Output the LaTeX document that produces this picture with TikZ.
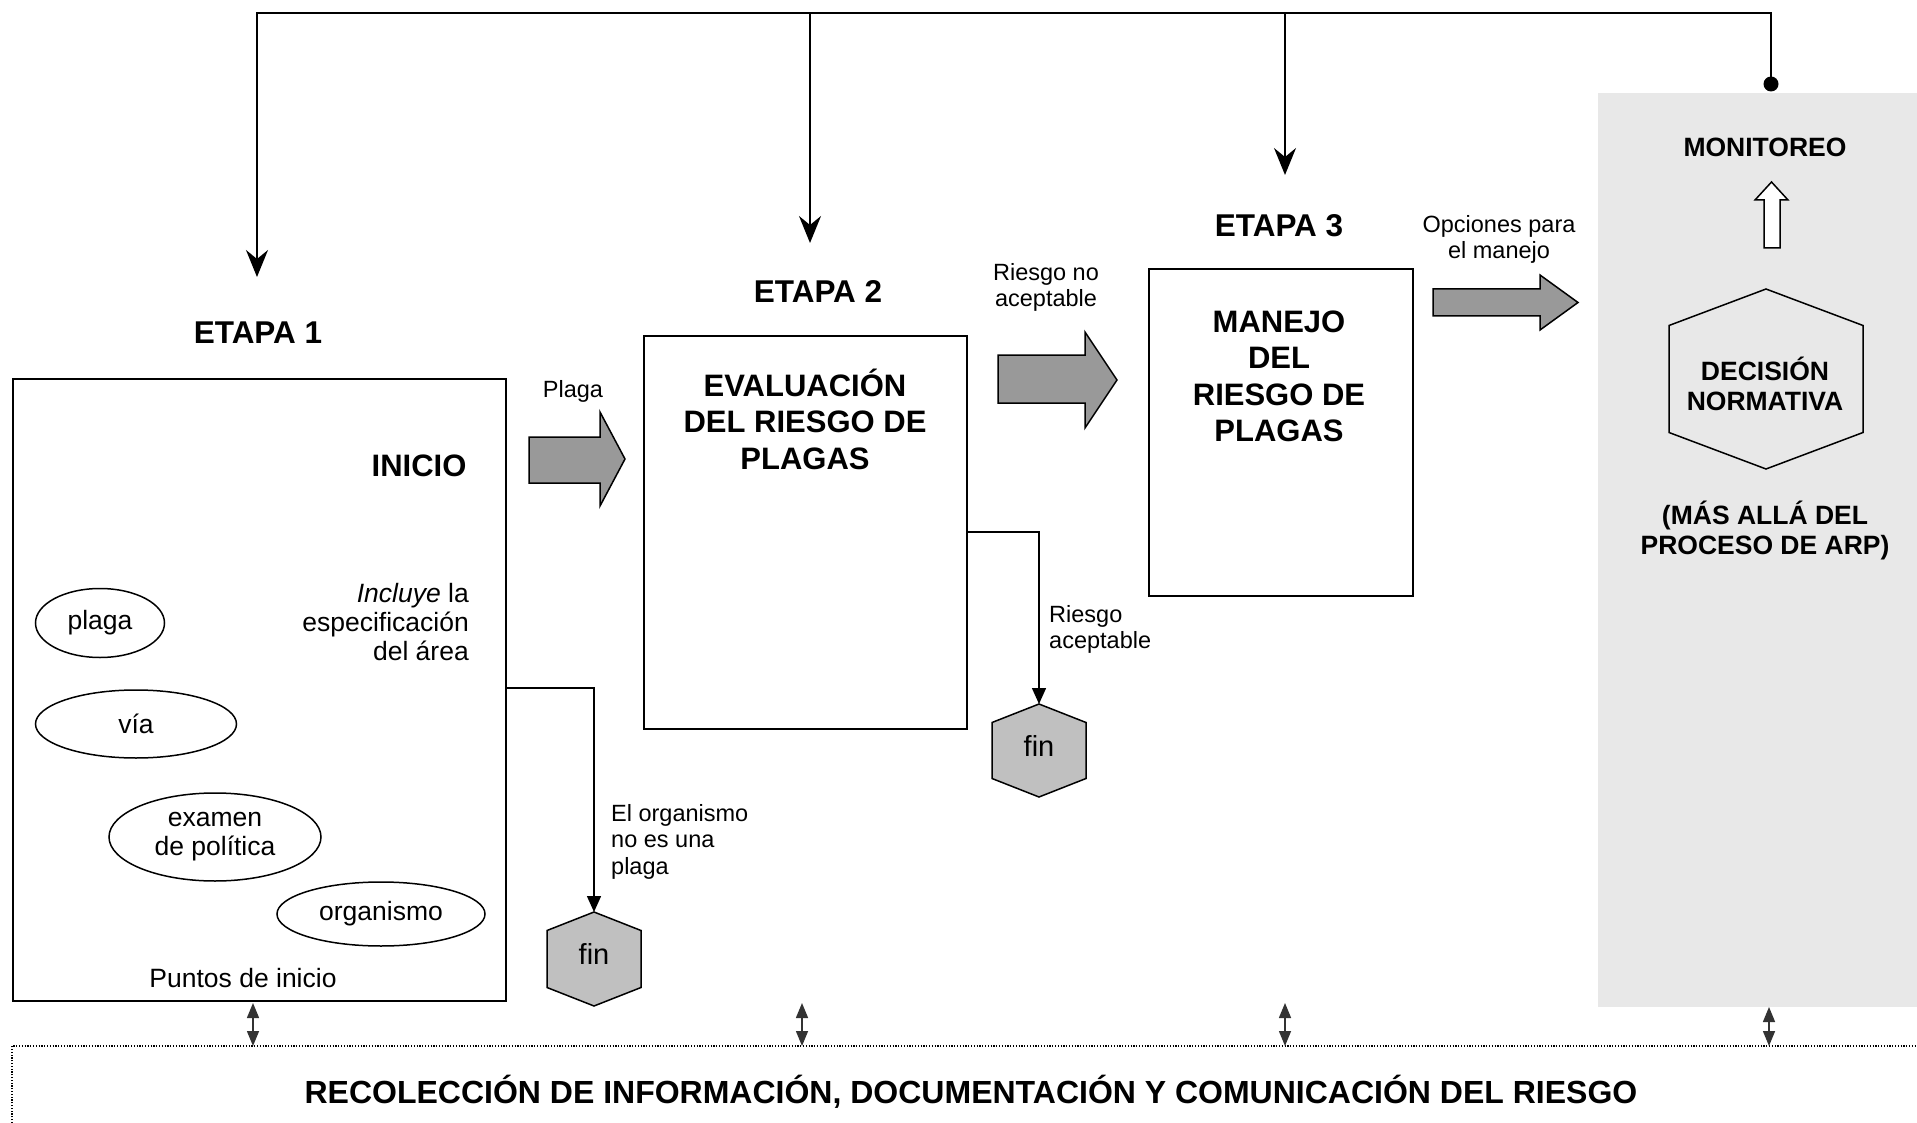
\documentclass[tikz,border=0pt]{standalone}
\usepackage{fontspec}
\setmainfont{Liberation Sans}
\usetikzlibrary{arrows.meta,shapes.geometric,calc}
\definecolor{arrowgray}{HTML}{999999}
\definecolor{fingray}{HTML}{C0C0C0}
\definecolor{panelgray}{HTML}{E8E8E8}
\definecolor{darkline}{HTML}{333333}
\begin{document}
\begin{tikzpicture}[x=1pt,y=-1pt,
  etapa/.style={font=\fontsize{31.5}{36}\selectfont\bfseries, inner sep=0pt, anchor=base},
  bigtitle/.style={font=\fontsize{31}{36.5}\selectfont\bfseries, align=center, inner sep=0pt, anchor=base},
  boldmid/.style={font=\fontsize{26.5}{30}\selectfont\bfseries, align=center, inner sep=0pt, anchor=base},
  lbl/.style={font=\fontsize{23.5}{26.5}\selectfont, inner sep=0pt},
  body/.style={font=\fontsize{26.5}{29}\selectfont, inner sep=0pt},
  stagebox/.style={draw, line width=2pt, inner sep=0pt, anchor=north west},
  oval/.style={draw, ellipse, line width=1.5pt, inner sep=0pt, align=center, font=\fontsize{26.5}{29}\selectfont},
  blockarrow/.style={draw, line width=1.5pt, fill=arrowgray, line join=miter},
  hexfin/.style={draw, line width=1.5pt, fill=fingray},
  feed/.style={line width=1.5pt, -{Stealth[length=27pt,width=22pt,inset=9pt]}},
  flow/.style={line width=1.5pt, -{Triangle[length=16pt,width=14pt]}},
  dbl/.style={line width=1.5pt, draw=darkline, {Triangle[length=15pt,width=12pt]}-{Triangle[length=15pt,width=12pt]}},
]
\useasboundingbox (0,0) rectangle (1917,1123);
% grey panel (beyond the PRA process)
\fill[panelgray] (1598,93) rectangle (1917,1007);

% stage boxes
\node[stagebox, minimum width=493, minimum height=622] (b1) at (12,378) {};
\node[stagebox, minimum width=323, minimum height=393] (b2) at (643,335) {};
\node[stagebox, minimum width=264, minimum height=327] (b3) at (1148,268) {};

% top feedback line
\coordinate (t1) at (257,13);
\coordinate (t2) at (810,13);
\coordinate (t3) at (1285,13);
\coordinate (t4) at (1771,13);
\coordinate (e1) at (257,277);
\coordinate (e2) at (810,243);
\coordinate (e3) at (1285,175);
\coordinate (dot) at (1771,84);
\draw[line width=2.8pt, line cap=rect] (t1) -- (t4);
\draw[feed] (t1) -- (e1);
\draw[feed] (t2) -- (e2);
\draw[feed] (t3) -- (e3);
\draw[line width=1.5pt] (t4) -- (dot);
\fill (dot) circle (7.5);

% headings
\node[etapa] (et1) at (258,344) {ETAPA 1};
\node[etapa] (et2) at (818,303) {ETAPA 2};
\node[etapa] (et3) at (1279,237) {ETAPA 3};

% box titles (base anchor = baseline of the last line)
\node[bigtitle, anchor=center] (inicio) at (419,466) {INICIO};
\node[bigtitle] (evt) at (805,469) {EVALUACIÓN\\DEL RIESGO DE\\PLAGAS};
\node[bigtitle] (mjt) at (1279,441.5) {MANEJO\\DEL\\RIESGO DE\\PLAGAS};

% stage 1 contents
\node[body, anchor=base east, align=right] (inc) at (469,660) {\textit{Incluye} la\\especificación\\del área};
\node[oval, minimum width=129, minimum height=69] (ov1) at (100,623) {plaga};
\node[oval, minimum width=201, minimum height=68] (ov2) at (136,724) {vía};
\node[oval, minimum width=212, minimum height=88] (ov3) at (215,837) {examen\\de política};
\node[oval, minimum width=208, minimum height=64] (ov4) at (381,914) {organismo};
\node[body, anchor=base] (pts) at (243,987) {Puntos de inicio};

% block arrows
\draw[blockarrow] (529,437) -- (600,437) -- (600,412) -- (625,459) -- (600,506) -- (600,483) -- (529,483) -- cycle;
\draw[blockarrow] (998,355) -- (1085,355) -- (1085,332) -- (1117,380) -- (1085,428) -- (1085,403) -- (998,403) -- cycle;
\draw[blockarrow] (1433,289) -- (1540,289) -- (1540,275) -- (1578,302.5) -- (1540,330) -- (1540,316) -- (1433,316) -- cycle;
\node[lbl, anchor=base] (plagalbl) at (573,397) {Plaga};
\node[lbl, anchor=base, align=center] (rna) at (1046,307) {Riesgo no\\aceptable};
\node[lbl, anchor=base, align=center] (opc) at (1499,259) {Opciones para\\el manejo};

% exits to "fin"
\coordinate (f1c) at (594,954);
\coordinate (f1top) at (594,912);
\coordinate (o1) at (505,688);
\draw[hexfin] (f1top) -- ++(47,18.5) -- ++(0,57) -- ++(-47,18.5) -- ++(-47,-18.5) -- ++(0,-57) -- cycle;
\node[body, font=\fontsize{29}{30}\selectfont] (fin1) at (f1c) {fin};
\draw[flow] (o1) -| (f1top);
\node[lbl, anchor=base west, align=left] (eo) at (611,874) {El organismo\\no es una\\plaga};

\coordinate (f2c) at (1039,746);
\coordinate (f2top) at (1039,704);
\coordinate (o2) at (966,532);
\draw[hexfin] (f2top) -- ++(47,18.5) -- ++(0,56) -- ++(-47,18.5) -- ++(-47,-18.5) -- ++(0,-56) -- cycle;
\node[body, font=\fontsize{29}{30}\selectfont] (fin2) at (f2c) {fin};
\draw[flow] (o2) -| (f2top);
\node[lbl, anchor=base west, align=left] (ra) at (1049,648.5) {Riesgo\\aceptable};

% decision panel
\node[boldmid] (mon) at (1765,157) {MONITOREO};
\draw[line width=1.5pt, fill=white, line join=miter] (1764,248) -- (1764,200) -- (1755,200) -- (1771.5,182) -- (1788,200) -- (1780,200) -- (1780,248) -- cycle;
\coordinate (dc) at (1766,379);
\draw[line width=1.5pt] ($(dc)+(0,-90)$) -- ++(97,36.5) -- ++(0,107) -- ++(-97,36.5) -- ++(-97,-36.5) -- ++(0,-107) -- cycle;
\node[boldmid] (dec) at (1765,410) {DECISIÓN\\NORMATIVA};
\node[boldmid] (mas) at (1765,554) {(MÁS ALLÁ DEL\\PROCESO DE ARP)};

% information frame
\draw[line width=1.8pt, dash pattern=on 1.2pt off 1.6pt] (12,1123) -- (12,1046) -- (1917,1046);
\node[font=\fontsize{32}{36}\selectfont\bfseries, inner sep=0pt, anchor=base] (rec) at (971,1103) {RECOLECCIÓN DE INFORMACIÓN, DOCUMENTACIÓN Y COMUNICACIÓN DEL RIESGO};
\coordinate (d1a) at (253,1003); \coordinate (d1b) at (253,1046);
\coordinate (d2a) at (802,1003); \coordinate (d2b) at (802,1046);
\coordinate (d3a) at (1285,1003); \coordinate (d3b) at (1285,1046);
\coordinate (d4a) at (1769,1007); \coordinate (d4b) at (1769,1046);
\draw[dbl] (d1a) -- (d1b);
\draw[dbl] (d2a) -- (d2b);
\draw[dbl] (d3a) -- (d3b);
\draw[dbl] (d4a) -- (d4b);
\end{tikzpicture}
\end{document}
